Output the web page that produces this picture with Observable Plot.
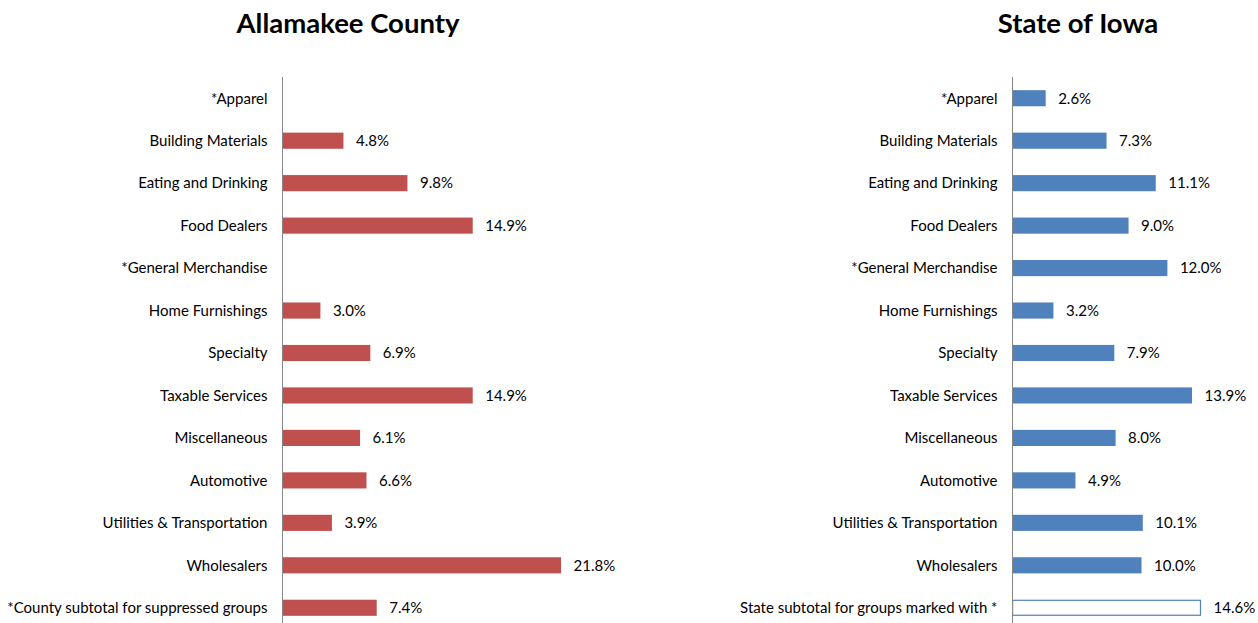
<!DOCTYPE html>
<html>
<head>
<meta charset="utf-8">
<script src="https://cdn.jsdelivr.net/npm/d3@7"></script>
<script src="https://cdn.jsdelivr.net/npm/@observablehq/plot@0.6"></script>
<style>
  body { margin: 0; width: 1258px; height: 623px; overflow: hidden; background: white; font-family: Lato, "Open Sans", sans-serif; position: relative; }
  .title { position: absolute; top: 6px; font-weight: bold; font-size: 27.5px; color: #000; text-align: center; width: 400px; }
  .panel { position: absolute; top: 60px; }
</style>
</head>
<body>
<div class="title" style="left:148px">Allamakee County</div>
<div class="title" style="left:878px">State of Iowa</div>
<div class="panel" id="left" style="left:0px"></div>
<div class="panel" id="right" style="left:629px"></div>
<script>
const countyCategories = ["*Apparel", "Building Materials", "Eating and Drinking", "Food Dealers", "*General Merchandise", "Home Furnishings", "Specialty", "Taxable Services", "Miscellaneous", "Automotive", "Utilities & Transportation", "Wholesalers", "*County subtotal for suppressed groups"];
const countyValues = [null, 4.8, 9.8, 14.9, null, 3.0, 6.9, 14.9, 6.1, 6.6, 3.9, 21.8, 7.4];

const stateCategories = ["*Apparel", "Building Materials", "Eating and Drinking", "Food Dealers", "*General Merchandise", "Home Furnishings", "Specialty", "Taxable Services", "Miscellaneous", "Automotive", "Utilities & Transportation", "Wholesalers", "State subtotal for groups marked with *"];
const stateValues = [2.6, 7.3, 11.1, 9.0, 12.0, 3.2, 7.9, 13.9, 8.0, 4.9, 10.1, 10.0, 14.6];
const stateSubtotalFlags = [false, false, false, false, false, false, false, false, false, false, false, false, true];

function panel(cats, vals, flags, color, marginLeft, xmax) {
  const data = cats.map((c, i) => ({cat: c, v: vals[i], outline: flags ? flags[i] : false}));
  const withVal = data.filter(d => d.v != null);
  return Plot.plot({
    width: 629,
    height: 570,
    marginLeft,
    marginRight: 0,
    marginTop: 17,
    marginBottom: 1,
    style: {fontFamily: "Lato, 'Open Sans', sans-serif", fontSize: "15px", color: "#000", background: "transparent", overflow: "visible"},
    x: {domain: [0, xmax], axis: null},
    y: {domain: cats, paddingInner: 0.62, paddingOuter: 0.31, round: false, label: null},
    marks: [
      Plot.barX(withVal.filter(d => !d.outline), {x: "v", y: "cat", fill: color}),
      Plot.barX(withVal.filter(d => d.outline), {x: "v", y: "cat", fill: "white", stroke: color, strokeWidth: 1.2, inset: 0.6}),
      Plot.text(withVal, {x: "v", y: "cat", text: d => d.v.toFixed(1) + "%", textAnchor: "start", dx: 12, fill: "#000"}),
      Plot.ruleX([0], {stroke: "#868686", strokeWidth: 1}),
      Plot.axisY({tickSize: 0, tickPadding: 15, label: null, fill: "#000"})
    ]
  });
}

document.getElementById("left").append(panel(countyCategories, countyValues, null, "#C0504D", 282, 347 / 12.8));
document.getElementById("right").append(panel(stateCategories, stateValues, stateSubtotalFlags, "#4F81BD", 383, 246 / 12.95));
</script>
</body>
</html>
